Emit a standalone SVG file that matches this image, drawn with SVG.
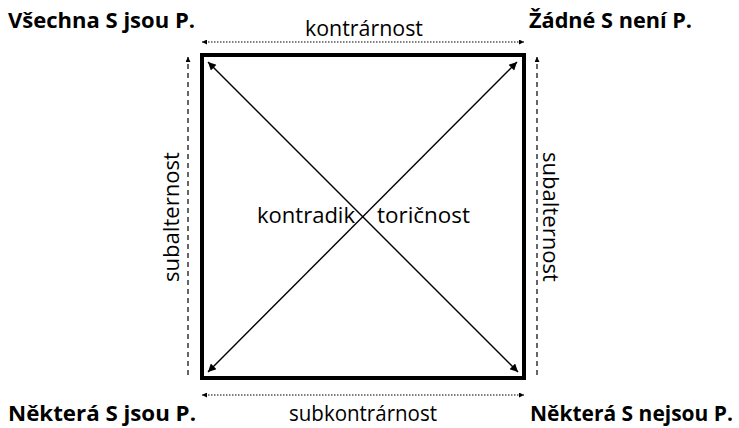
<svg xmlns="http://www.w3.org/2000/svg" width="739" height="428" viewBox="0 0 739 428">
<defs>
<style>
.t{font-family:"Open Sans","Liberation Sans",sans-serif;fill:#000}
.b{font-weight:bold;font-size:21px}
.r{font-size:21px}
.diag{stroke:#000;stroke-width:1.4;fill:none}
.dot{stroke:#000;stroke-width:1;stroke-dasharray:1.5 1.5;fill:none}
.dash{stroke:#000;stroke-width:1.2;stroke-dasharray:5 4;fill:none}
</style>
<marker id="ah" viewBox="0 0 10 10" refX="10" refY="5" markerWidth="10" markerHeight="8" markerUnits="userSpaceOnUse" orient="auto-start-reverse">
<path d="M0,0 L10,5 L0,10 z" fill="#000"/>
</marker>
<marker id="sh" viewBox="0 0 10 10" refX="10" refY="5" markerWidth="6" markerHeight="5" markerUnits="userSpaceOnUse" orient="auto-start-reverse">
<path d="M0,0 L10,5 L0,10 z" fill="#000"/>
</marker>
</defs>
<rect width="739" height="428" fill="#fff"/>
<g id="square">
<rect x="202" y="55" width="322" height="323" fill="none" stroke="#000" stroke-width="4"/>
</g>
<g id="connectors">
<line class="diag" x1="208" y1="62" x2="518" y2="372" marker-start="url(#ah)" marker-end="url(#ah)"/>
<line class="diag" x1="517" y1="62" x2="208" y2="372" marker-start="url(#ah)" marker-end="url(#ah)"/>
<line class="dot" x1="202" y1="42" x2="524" y2="42" marker-start="url(#sh)" marker-end="url(#sh)"/>
<line class="dot" x1="202" y1="395" x2="524" y2="395" marker-start="url(#sh)" marker-end="url(#sh)"/>
<line class="dash" x1="188" y1="375" x2="188" y2="57" marker-end="url(#sh)"/>
<line class="dash" x1="537" y1="375" x2="537" y2="57" marker-end="url(#sh)"/>
</g>
<g id="n-all"><text class="t b" x="8" y="28" textLength="187" lengthAdjust="spacingAndGlyphs">Všechna S jsou P.</text></g>
<g id="n-none"><text class="t b" x="529" y="28" textLength="163" lengthAdjust="spacingAndGlyphs">Žádné S není P.</text></g>
<g id="n-some"><text class="t b" x="8" y="421" textLength="188" lengthAdjust="spacingAndGlyphs">Některá S jsou P.</text></g>
<g id="n-somenot"><text class="t b" x="530" y="421" textLength="203" lengthAdjust="spacingAndGlyphs">Některá S nejsou P.</text></g>
<g id="labels">
<text class="t r" x="305" y="36" textLength="118" lengthAdjust="spacingAndGlyphs">kontrárnost</text>
<text class="t r" x="289" y="421" textLength="148" lengthAdjust="spacingAndGlyphs">subkontrárnost</text>
<text class="t r" x="257" y="223" textLength="98" lengthAdjust="spacingAndGlyphs">kontradik</text>
<text class="t r" x="377" y="223" textLength="93" lengthAdjust="spacingAndGlyphs">toričnost</text>
<text class="t r" transform="translate(179,282) rotate(-90)" textLength="130" lengthAdjust="spacingAndGlyphs">subalternost</text>
<text class="t r" transform="translate(543,152) rotate(90)" textLength="130" lengthAdjust="spacingAndGlyphs">subalternost</text>
</g>
</svg>
